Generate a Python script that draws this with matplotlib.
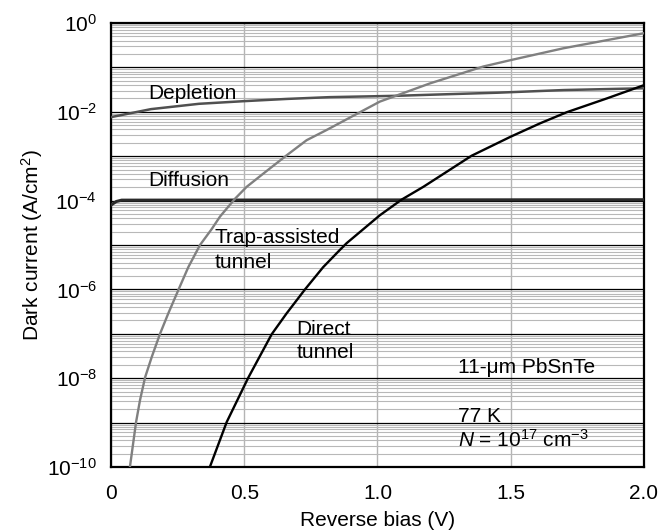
import numpy as np
import matplotlib
matplotlib.use("Agg")
from matplotlib import pyplot as plt
from matplotlib.ticker import LogLocator, FuncFormatter, NullFormatter

plt.rcParams['font.family'] = ['Liberation Sans', 'DejaVu Sans']
plt.rcParams['mathtext.fontset'] = 'custom'
plt.rcParams['mathtext.rm'] = 'Liberation Sans'
plt.rcParams['mathtext.it'] = 'Liberation Sans:italic'

# values: reverse bias (V) and log10 of dark current (A/cm^2)
dep_v = [0.0, 0.15, 0.33, 0.5, 0.66, 0.82, 1.07, 1.23, 1.45, 1.7, 2.0]
dep_logj = [-2.12, -1.94, -1.82, -1.76, -1.71, -1.67, -1.64, -1.61, -1.57,
            -1.51, -1.47]

dif_v = [0.0, 0.02, 0.04, 2.0]
dif_logj = [-4.1, -4.02, -3.99, -3.98]

trap_v = [0.071, 0.094, 0.109, 0.128, 0.153, 0.184, 0.215, 0.253, 0.29, 0.334,
          0.378, 0.409, 0.465, 0.509, 0.572, 0.657, 0.734, 0.809, 0.934, 1.009,
          1.197, 1.397, 1.504, 1.697, 2.0]
trap_logj = [-10.0, -8.99, -8.49, -7.98, -7.52, -7.0, -6.54, -6.01, -5.5, -5.0,
             -4.64, -4.36, -3.96, -3.69, -3.39, -2.99, -2.64, -2.41, -2.01,
             -1.77, -1.36, -0.98, -0.83, -0.57, -0.23]

dir_v = [0.371, 0.434, 0.515, 0.603, 0.659, 0.728, 0.796, 0.859, 0.884, 1.009,
         1.09, 1.172, 1.26, 1.353, 1.5, 1.61, 1.71, 1.86, 2.0]
dir_logj = [-10.0, -8.99, -7.99, -7.01, -6.54, -6.0, -5.5, -5.11, -4.96, -4.33,
            -3.98, -3.69, -3.35, -2.99, -2.56, -2.26, -2.01, -1.70, -1.40]

x_ticks = [0, 0.5, 1.0, 1.5, 2.0]
x_labels = ["0", "0.5", "1.0", "1.5", "2.0"]

fig = plt.figure(figsize=(6.58, 5.30), dpi=100)
ax = fig.add_axes([0.1687, 0.1189, 0.81, 0.8377])

ax.set_yscale('log')
ax.set_xlim(0, 2.0)
ax.set_ylim(1e-10, 1)

# grid
ax.yaxis.set_major_locator(LogLocator(base=10, numticks=20))
ax.yaxis.set_minor_locator(LogLocator(base=10, subs=np.arange(2, 10), numticks=20))
ax.yaxis.set_minor_formatter(NullFormatter())


def ylab(val, pos):
    e = int(round(np.log10(val)))
    if e % 2:
        return ""
    return r"10$^{%d}$" % e


ax.yaxis.set_major_formatter(FuncFormatter(ylab))
ax.grid(True, which='minor', axis='y', color='#b8b8b8', lw=0.8)
ax.grid(True, which='major', axis='y', color='black', lw=0.9)
ax.grid(True, which='major', axis='x', color='#b4b4b4', lw=1.0)
ax.set_axisbelow(True)

ax.plot(dep_v, 10.0 ** np.array(dep_logj), color='#505050', lw=1.8, zorder=3)
ax.plot(dif_v, 10.0 ** np.array(dif_logj), color='#2a2a2a', lw=2.2, zorder=3)
ax.plot(trap_v, 10.0 ** np.array(trap_logj), color='#808080', lw=1.7, zorder=3)
ax.plot(dir_v, 10.0 ** np.array(dir_logj), color='black', lw=1.7, zorder=3)

ax.set_xticks(x_ticks)
ax.set_xticklabels(x_labels)
ax.tick_params(which='both', length=0, labelsize=15, pad=10)
ax.tick_params(axis='x', pad=12)

for s in ax.spines.values():
    s.set_linewidth(1.6)
    s.set_color('black')

ax.set_xlabel("Reverse bias (V)", fontsize=15, labelpad=6)
ax.set_ylabel("Dark current (A/cm$^2$)", fontsize=15, labelpad=2)

fs = 15
ax.text(0.139, 10**-1.71, "Depletion", fontsize=fs, va='baseline')
ax.text(0.139, 10**-3.67, "Diffusion", fontsize=fs, va='baseline')
ax.text(0.39, 10**-4.95, "Trap-assisted", fontsize=fs, va='baseline')
ax.text(0.39, 10**-5.52, "tunnel", fontsize=fs, va='baseline')
ax.text(0.697, 10**-7.03, "Direct", fontsize=fs, va='baseline')
ax.text(0.697, 10**-7.55, "tunnel", fontsize=fs, va='baseline')
ax.text(1.302, 10**-7.88, "11-\u03bcm PbSnTe", fontsize=fs, va='baseline')
ax.text(1.302, 10**-8.99, "77 K", fontsize=fs, va='baseline')
ax.text(1.302, 10**-9.55, r"$\mathit{N}$ = 10$^{17}$ cm$^{-3}$",
        fontsize=fs, va='baseline')

fig.savefig("out.png", dpi=100)
